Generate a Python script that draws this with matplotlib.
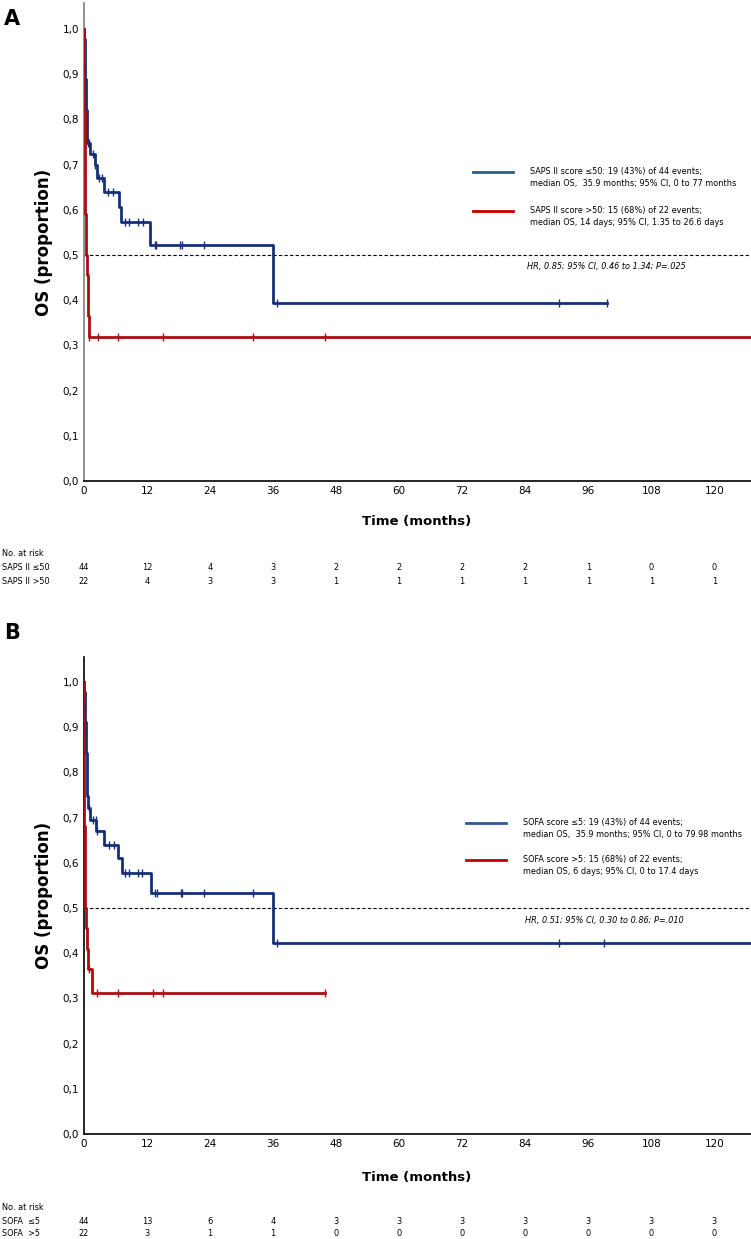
import numpy as np
import matplotlib
matplotlib.use("Agg")
import matplotlib.pyplot as plt
from matplotlib.lines import Line2D
from matplotlib.transforms import blended_transform_factory

# ---- data (time in months, survival proportion) ----
a_blue_t = [0, 0.05, 0.10, 0.15, 0.25, 0.30, 0.35, 0.45, 0.50, 0.55, 0.60,
            1.2, 2.0, 2.4, 3.8, 6.7, 7.1, 12.6, 35.9]
a_blue_s = [1.0, 0.977, 0.955, 0.914, 0.89, 0.867, 0.844, 0.82, 0.795, 0.772, 0.748,
            0.723, 0.698, 0.670, 0.640, 0.606, 0.574, 0.523, 0.394]
a_blue_cens = [0.2, 0.4, 0.7, 1.0, 1.8, 2.1, 2.9, 3.4, 4.6, 5.6, 7.8, 8.6, 10.3, 11.3,
               13.5, 13.8, 18.3, 18.6, 22.8, 36.8, 90.5, 99.5]
a_blue_end = 99.5

a_red_t = [0, 0.02, 0.04, 0.06, 0.08, 0.10, 0.12, 0.15, 0.20, 0.25, 0.35, 0.45,
           0.55, 0.70, 0.80, 1.0]
a_red_s = [1.0, 0.955, 0.909, 0.864, 0.818, 0.773, 0.727, 0.682, 0.636, 0.591,
           0.545, 0.5, 0.455, 0.409, 0.364, 0.318]
a_red_cens = [1.0, 2.6, 6.5, 15.0, 32.2, 45.9]
a_red_end = 127

b_blue_t = [0, 0.05, 0.10, 0.15, 0.25, 0.30, 0.40, 0.45, 0.50, 0.55, 0.60, 0.65, 0.70,
            1.1, 2.3, 3.8, 6.5, 7.3, 12.7, 35.9]
b_blue_s = [1.0, 0.977, 0.955, 0.937, 0.912, 0.889, 0.866, 0.843, 0.82, 0.797, 0.774,
            0.748, 0.721, 0.695, 0.670, 0.639, 0.610, 0.577, 0.532, 0.423]
b_blue_cens = [0.2, 0.35, 1.0, 1.8, 2.2, 2.5, 4.8, 5.7, 7.8, 8.6, 10.3, 11.1,
               13.6, 13.9, 18.4, 18.7, 22.8, 32.2, 36.8, 90.5, 99.0]
b_blue_end = 127

b_red_t = [0, 0.01, 0.02, 0.03, 0.04, 0.05, 0.06, 0.08, 0.10, 0.12, 0.15, 0.20,
           0.30, 0.50, 0.70, 1.6]
b_red_s = [1.0, 0.955, 0.909, 0.864, 0.818, 0.773, 0.727, 0.682, 0.636, 0.591,
           0.545, 0.5, 0.455, 0.409, 0.364, 0.312]
b_red_cens = [1.0, 2.5, 6.5, 13.2, 15.1, 45.9]
b_red_end = 45.9

xticks = [0, 12, 24, 36, 48, 60, 72, 84, 96, 108, 120]
yticks = [0.0, 0.1, 0.2, 0.3, 0.4, 0.5, 0.6, 0.7, 0.8, 0.9, 1.0]

risk_a_labels = ["SAPS II \u226450", "SAPS II >50"]
risk_a_blue = [44, 12, 4, 3, 2, 2, 2, 2, 1, 0, 0]
risk_a_red = [22, 4, 3, 3, 1, 1, 1, 1, 1, 1, 1]

risk_b_labels = ["SOFA  \u22645", "SOFA  >5"]
risk_b_blue = [44, 13, 6, 4, 3, 3, 3, 3, 3, 3, 3]
risk_b_red = [22, 3, 1, 1, 0, 0, 0, 0, 0, 0, 0]

legend_a = ["SAPS II score \u226450: 19 (43%) of 44 events;\nmedian OS,  35.9 months; 95% CI, 0 to 77 months",
            "SAPS II score >50: 15 (68%) of 22 events;\nmedian OS, 14 days; 95% CI, 1.35 to 26.6 days"]
hr_a = "HR, 0.85; 95% CI, 0.46 to 1.34; P=.025"
legend_b = ["SOFA score \u22645: 19 (43%) of 44 events;\nmedian OS,  35.9 months; 95% CI, 0 to 79.98 months",
            "SOFA score >5: 15 (68%) of 22 events;\nmedian OS, 6 days; 95% CI, 0 to 17.4 days"]
hr_b = "HR, 0.51; 95% CI, 0.30 to 0.86; P=.010"

BLUE = "#172f78"
RED = "#a80f12"
LEG_BLUE = "#2f5b94"
LEG_RED = "#c00000"
XMAX = 127

W, H = 751, 1239
fig = plt.figure(figsize=(W / 100, H / 100), dpi=100)


def fx(px):
    return px / W


def fy(py):
    return 1 - py / H


def km(ax, t, s, cens, end, color):
    tt = list(t) + [end]
    ss = list(s) + [s[-1]]
    ax.step(tt, ss, where="post", color=color, lw=2.0, zorder=3)
    idx = np.searchsorted(t, cens, side="right") - 1
    cy = np.array(s)[idx]
    ax.plot(cens, cy, ls="none", marker="|", ms=6, mew=1.0, color=color, zorder=4)


def panel(top_px, bot_px, ytop, spine_col, curves, leg_y, leg_texts, hr, hr_y,
          risk_rows, risk_labels, risk_vals, xlab_y, letter, letter_y):
    ax = fig.add_axes([fx(84), fy(bot_px), 1 - fx(84), (bot_px - top_px) / H])
    for c in curves:
        km(ax, *c)
    ax.axhline(0.5, color="black", lw=0.8, ls=(0, (3, 2)), zorder=2)
    ax.set_xlim(0, XMAX)
    ax.set_ylim(0, ytop)
    ax.set_xticks(xticks)
    ax.set_yticks(yticks)
    ax.set_yticklabels([f"{v:.1f}".replace(".", ",") for v in yticks])
    ax.tick_params(length=0, labelsize=7.5, pad=3.5)
    for sp in ["top", "right"]:
        ax.spines[sp].set_visible(False)
    ax.spines["left"].set_color(spine_col)
    ax.spines["left"].set_linewidth(1.2)
    ax.spines["bottom"].set_linewidth(1.2)
    ax.set_ylabel("OS (proportion)", fontsize=12, fontweight="bold", labelpad=7)

    fig.text(fx(417), fy(xlab_y), "Time (months)", ha="center", va="center",
             fontsize=9.5, fontweight="bold")
    fig.text(fx(4), fy(letter_y), letter, ha="left", va="center",
             fontsize=15, fontweight="bold")

    # legend
    for (ly, txt, col) in zip(leg_y, leg_texts, [LEG_BLUE, LEG_RED]):
        fig.add_artist(Line2D([fx(leg_x0), fx(leg_x0 + 40)], [fy(ly), fy(ly)],
                              color=col, lw=2.0))
        fig.text(fx(leg_x0 + 57), fy(ly - 5), txt, ha="left", va="top",
                 fontsize=5.9, linespacing=1.45)
    fig.text(fx(hr_x), fy(hr_y), hr, ha="left", va="center", fontsize=5.9,
             style="italic")

    # number at risk table
    tr = blended_transform_factory(ax.transData, fig.transFigure)
    fig.text(fx(2), fy(risk_rows[0]), "No. at risk", ha="left", va="center", fontsize=5.9)
    for ry, lab, vals in zip(risk_rows[1:], risk_labels, risk_vals):
        fig.text(fx(2), fy(ry), lab, ha="left", va="center", fontsize=5.9)
        for xv, v in zip(xticks, vals):
            ax.text(xv, fy(ry), str(v), transform=tr, ha="center", va="center",
                    fontsize=5.9, clip_on=False)
    return ax


leg_x0 = 473
hr_x = 527
panel(3, 481, 1.0575, "#7f7f7f",
      [(a_blue_t, a_blue_s, a_blue_cens, a_blue_end, BLUE),
       (a_red_t, a_red_s, a_red_cens, a_red_end, RED)],
      [172, 211], legend_a, hr_a, 266,
      [554, 568, 581], risk_a_labels, [risk_a_blue, risk_a_red], 522, "A", 19)

leg_x0 = 466
hr_x = 525
panel(657, 1134, 1.055, "black",
      [(b_blue_t, b_blue_s, b_blue_cens, b_blue_end, BLUE),
       (b_red_t, b_red_s, b_red_cens, b_red_end, RED)],
      [823, 860], legend_b, hr_b, 920,
      [1207, 1221, 1233], risk_b_labels, [risk_b_blue, risk_b_red], 1177, "B", 633)

fig.savefig("out.png", dpi=100)
